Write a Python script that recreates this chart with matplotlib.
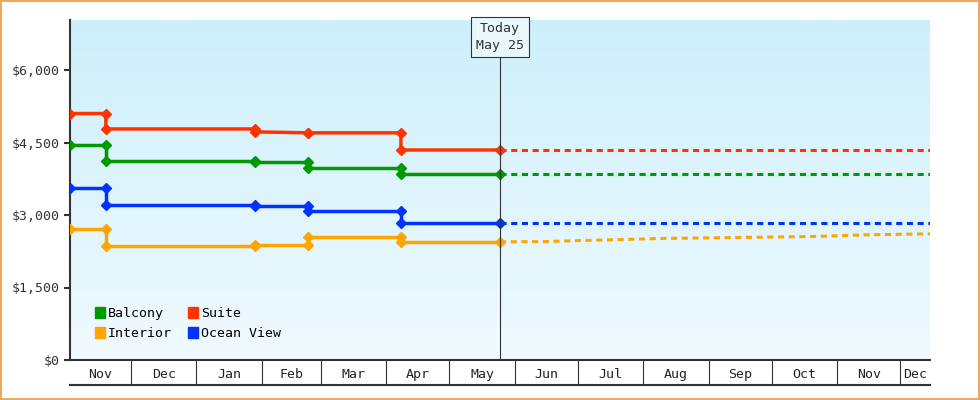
import matplotlib
matplotlib.use("Agg")
import matplotlib.pyplot as plt
import matplotlib.dates as mdates
import numpy as np
from datetime import datetime as dt

# price history: step dates carry two points (old value, new value)
hist_dates = ["2012-11-02", "2012-11-19", "2012-11-19", "2013-01-29", "2013-01-29",
              "2013-02-23", "2013-02-23", "2013-04-08", "2013-04-08", "2013-05-25"]
suite = [5100, 5100, 4780, 4780, 4720, 4700, 4700, 4700, 4345, 4345]
balcony = [4450, 4450, 4120, 4120, 4100, 4100, 3975, 3975, 3850, 3850]
ocean_view = [3560, 3560, 3210, 3210, 3190, 3190, 3085, 3085, 2835, 2835]
interior = [2710, 2710, 2360, 2360, 2380, 2380, 2545, 2545, 2445, 2445]

# forecast
fc_dates = ["2013-05-25", "2013-06-15", "2013-07-01", "2013-07-20", "2013-08-10",
            "2013-09-15", "2013-10-20", "2013-11-15", "2013-12-15"]
fc_interior = [2445, 2450, 2470, 2490, 2515, 2535, 2555, 2590, 2610]

# legend order (column-wise fill gives rows Balcony/Suite, Interior/Ocean View)
series = [("Balcony", balcony, "#009900"), ("Interior", interior, "#ffa500"),
          ("Suite", suite, "#ff3300"), ("Ocean View", ocean_view, "#0033ff")]

months = ["Nov", "Dec", "Jan", "Feb", "Mar", "Apr", "May", "Jun", "Jul", "Aug",
          "Sep", "Oct", "Nov", "Dec"]

plt.rcParams["font.family"] = ["DejaVu Sans Mono"]
fig = plt.figure(figsize=(9.8, 4.0), dpi=100)
fig.patches.append(plt.Rectangle((0.001, 0.002), 0.998, 0.996, transform=fig.transFigure,
                                 fill=False, edgecolor="#f0a860", linewidth=1.5))
ax = fig.add_axes([70 / 980, 0.1, 860 / 980, 0.85])

hd = [dt.fromisoformat(d) for d in hist_dates]
fd = [dt.fromisoformat(d) for d in fc_dates]
x0, x1 = dt(2012, 11, 2), dt(2013, 12, 15)
ymax = 6000 * 340 / 290

grad = np.linspace(0, 1, 256).reshape(-1, 1)
ax.imshow(grad, aspect="auto", cmap=matplotlib.colors.LinearSegmentedColormap.from_list(
    "bg", ["#f0faff", "#cdeffb"]), origin="lower",
    extent=[mdates.date2num(x0), mdates.date2num(x1), 0, ymax], zorder=0)

for name, vals, c in series:
    ax.plot(hd, vals, color=c, lw=2.5, marker="D", ms=5, zorder=3)
    fv = fc_interior if name == "Interior" else [vals[-1]] * len(fd)
    ax.plot(fd, fv, color=c, lw=2.2, ls=(0, (2, 1.5)), zorder=2)

today = dt(2013, 5, 25)
ax.axvline(today, color="#333333", lw=0.8, zorder=4)
ax.text(today, ymax - 40, "Today\nMay 25", ha="center", va="top", fontsize=9.5,
        color="#333333", linespacing=1.4,
        bbox=dict(boxstyle="square,pad=0.4", fc="#e8f8fd", ec="#333333", lw=0.8), zorder=5)

ax.set_xlim(x0, x1)
ax.set_ylim(0, ymax)
ax.set_yticks([0, 1500, 3000, 4500, 6000])
ax.set_yticklabels(["$0", "$1,500", "$3,000", "$4,500", "$6,000"], fontsize=9.5, color="#333333")
ax.tick_params(axis="y", length=4, width=1.5, color="#333333")

bounds = [dt(2012 + (10 + i) // 12, (10 + i) % 12 + 1, 1) for i in range(1, 14)]
mids = [x0 + (bounds[0] - x0) / 2] + [bounds[i] + (bounds[i + 1] - bounds[i]) / 2
                                      for i in range(12)] + [bounds[-1] + (x1 - bounds[-1]) / 2]
ax.set_xticks(mids)
ax.set_xticklabels(months, fontsize=9.5, color="#222222")
ax.tick_params(axis="x", which="major", length=0, pad=6)
ax.set_xticks(bounds, minor=True)
ax.tick_params(axis="x", which="minor", length=18, width=0.8, color="#333333")

for s in ["top", "right"]:
    ax.spines[s].set_visible(False)
ax.spines["left"].set_linewidth(1.5)
ax.spines["bottom"].set_linewidth(1.5)
ax.spines["left"].set_color("#333333")
ax.spines["bottom"].set_color("#333333")
ax.plot([0, 1], [-25 / 340, -25 / 340], transform=ax.transAxes, color="#333333",
        lw=1.5, clip_on=False)

handles = [plt.Rectangle((0, 0), 1, 1, color=c) for _, _, c in series]
ax.legend(handles, [n for n, _, _ in series], ncol=2, loc="lower left",
          bbox_to_anchor=(0.015, 0.025), frameon=False, fontsize=9.5, handlelength=0.8,
          handleheight=0.9, handletextpad=0.2, columnspacing=1.2, labelspacing=0.5)

fig.savefig("out.png", dpi=100)
